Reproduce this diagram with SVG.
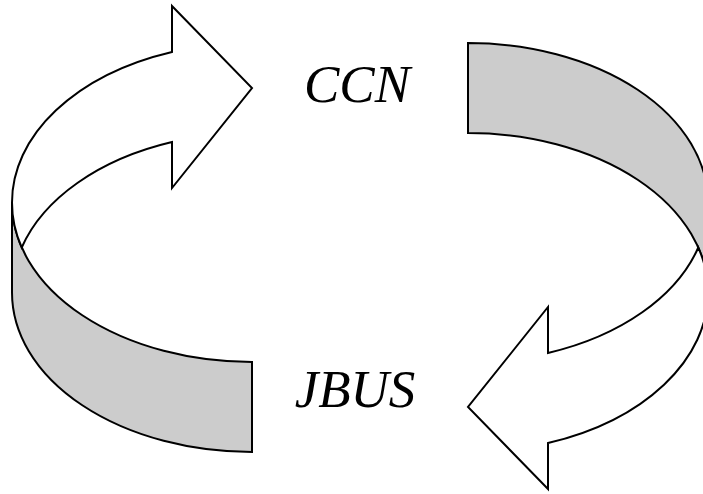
<svg xmlns="http://www.w3.org/2000/svg" width="703" height="494" viewBox="0 0 703 494">
<style>
.band{fill:#cccccc;stroke:#000;stroke-width:2;stroke-linejoin:miter}
.top{fill:#ffffff;stroke:#000;stroke-width:2;stroke-linejoin:miter}
.lbl{font-family:"Liberation Serif","Times New Roman",serif;font-style:italic;font-size:53px;fill:#000;text-anchor:middle}
</style>
<defs>
<g id="arrowShape">
<path class="band" d="M12,202.5 L12,292.5 A240,159.5 0 0 0 252,452 L252,362 A240,159.5 0 0 1 12,202.5 Z"/>
<path class="top" d="M172,52 A240,159.5 0 0 0 12,202.5 A240,159.5 0 0 0 21.7,247.5 A240,159.5 0 0 1 172,142 L172,188 L252,88 L172,6 Z"/>
</g>
</defs>
<rect width="703" height="494" fill="#ffffff"/>
<g id="connectors">
<g id="arrow-jbus-to-ccn"><use href="#arrowShape"/></g>
<g id="arrow-ccn-to-jbus"><use href="#arrowShape" transform="rotate(180 360 247.5)"/></g>
</g>
<g id="node-ccn"><text class="lbl" x="357" y="102">CCN</text></g>
<g id="node-jbus"><text class="lbl" x="355" y="407">JBUS</text></g>
</svg>
